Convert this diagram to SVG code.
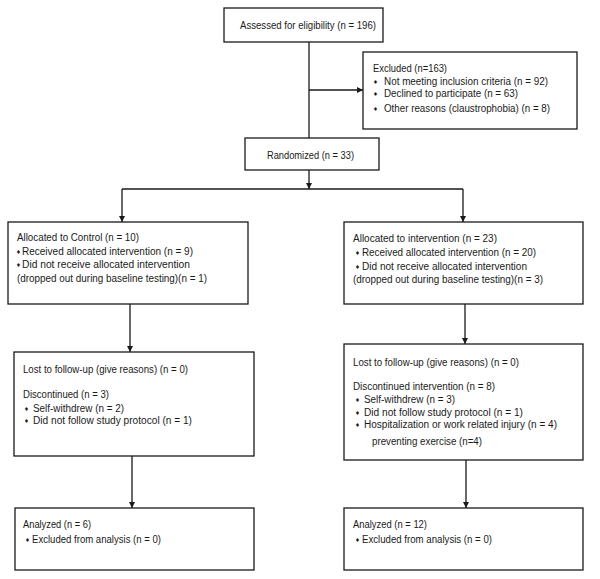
<svg xmlns="http://www.w3.org/2000/svg" width="600" height="579" viewBox="0 0 600 579">
<style>
.box{fill:#fff;stroke:#1a1a1a;stroke-width:1.3}
.t{font-family:"Liberation Sans",Arial,sans-serif;font-size:10px;fill:#1a1a1a}
.b{font-family:"DejaVu Sans",sans-serif;font-size:5.5px;fill:#1a1a1a}
.c{fill:none;stroke:#1a1a1a;stroke-width:1.3}
</style>
<defs>
<marker id="ah" viewBox="0 0 8 8" refX="8" refY="4" markerWidth="6" markerHeight="6" markerUnits="userSpaceOnUse" orient="auto">
<path d="M0,0 L8,4 L0,8 z" fill="#1a1a1a"/>
</marker>
</defs>
<rect width="600" height="579" fill="#fff"/>
<g id="connectors">
<line class="c" x1="309" y1="42" x2="309" y2="138"/>
<line class="c" x1="309" y1="90" x2="363" y2="90" marker-end="url(#ah)"/>
<line class="c" x1="309" y1="170" x2="309" y2="189" marker-end="url(#ah)"/>
<line class="c" x1="122" y1="189" x2="463" y2="189"/>
<line class="c" x1="122" y1="189" x2="122" y2="222" marker-end="url(#ah)"/>
<line class="c" x1="463" y1="189" x2="463" y2="222" marker-end="url(#ah)"/>
<line class="c" x1="130" y1="304" x2="130" y2="352" marker-end="url(#ah)"/>
<line class="c" x1="465" y1="304" x2="465" y2="344" marker-end="url(#ah)"/>
<line class="c" x1="132" y1="456" x2="132" y2="508" marker-end="url(#ah)"/>
<line class="c" x1="466" y1="460" x2="466" y2="508" marker-end="url(#ah)"/>
</g>
<g id="assessed">
<rect class="box" x="224" y="8" width="159" height="34"/>
<text class="t" x="240" y="28.5" textLength="136" lengthAdjust="spacingAndGlyphs">Assessed for eligibility (n = 196)</text>
</g>
<g id="excluded">
<rect class="box" x="363" y="52" width="214" height="77"/>
<text class="t" x="373" y="71.5" textLength="74" lengthAdjust="spacingAndGlyphs">Excluded (n=163)</text>
<text class="b" x="373" y="84">♦</text>
<text class="t" x="384" y="84.5" textLength="164" lengthAdjust="spacingAndGlyphs">Not meeting inclusion criteria (n = 92)</text>
<text class="b" x="373" y="96">♦</text>
<text class="t" x="384" y="96.8" textLength="134" lengthAdjust="spacingAndGlyphs">Declined to participate (n = 63)</text>
<text class="b" x="373" y="111">♦</text>
<text class="t" x="384" y="111.8" textLength="166" lengthAdjust="spacingAndGlyphs">Other reasons (claustrophobia) (n = 8)</text>
</g>
<g id="randomized">
<rect class="box" x="245" y="138" width="134" height="32"/>
<text class="t" x="267" y="158.5" textLength="87" lengthAdjust="spacingAndGlyphs">Randomized (n = 33)</text>
</g>
<g id="alloc-control">
<rect class="box" x="8" y="222" width="240" height="82"/>
<text class="t" x="17" y="240.5" textLength="122" lengthAdjust="spacingAndGlyphs">Allocated to Control (n = 10)</text>
<text class="b" x="16" y="254">♦</text>
<text class="t" x="22" y="254.5" textLength="171" lengthAdjust="spacingAndGlyphs">Received allocated intervention (n = 9)</text>
<text class="b" x="16" y="267">♦</text>
<text class="t" x="22" y="267.5" textLength="168" lengthAdjust="spacingAndGlyphs">Did not receive allocated intervention</text>
<text class="t" x="17" y="281.5" textLength="190" lengthAdjust="spacingAndGlyphs">(dropped out during baseline testing)(n = 1)</text>
</g>
<g id="alloc-intervention">
<rect class="box" x="344" y="222" width="239" height="82"/>
<text class="t" x="353" y="241.5" textLength="144" lengthAdjust="spacingAndGlyphs">Allocated to intervention (n = 23)</text>
<text class="b" x="355" y="255">♦</text>
<text class="t" x="362" y="255.5" textLength="174" lengthAdjust="spacingAndGlyphs">Received allocated intervention (n = 20)</text>
<text class="b" x="355" y="269">♦</text>
<text class="t" x="362" y="269.5" textLength="165" lengthAdjust="spacingAndGlyphs">Did not receive allocated intervention</text>
<text class="t" x="353" y="282.5" textLength="190" lengthAdjust="spacingAndGlyphs">(dropped out during baseline testing)(n = 3)</text>
</g>
<g id="followup-control">
<rect class="box" x="14" y="352" width="240" height="104"/>
<text class="t" x="23" y="372.5" textLength="165" lengthAdjust="spacingAndGlyphs">Lost to follow-up (give reasons) (n = 0)</text>
<text class="t" x="23" y="397.5" textLength="86" lengthAdjust="spacingAndGlyphs">Discontinued (n = 3)</text>
<text class="b" x="24" y="411">♦</text>
<text class="t" x="33" y="411.5" textLength="91" lengthAdjust="spacingAndGlyphs">Self-withdrew (n = 2)</text>
<text class="b" x="24" y="423">♦</text>
<text class="t" x="33" y="423.5" textLength="159" lengthAdjust="spacingAndGlyphs">Did not follow study protocol (n = 1)</text>
</g>
<g id="followup-intervention">
<rect class="box" x="344" y="344" width="239" height="116"/>
<text class="t" x="353" y="365.5" textLength="166" lengthAdjust="spacingAndGlyphs">Lost to follow-up (give reasons) (n = 0)</text>
<text class="t" x="353" y="389.5" textLength="142" lengthAdjust="spacingAndGlyphs">Discontinued intervention (n = 8)</text>
<text class="b" x="355" y="402">♦</text>
<text class="t" x="364" y="402.5" textLength="91" lengthAdjust="spacingAndGlyphs">Self-withdrew (n = 3)</text>
<text class="b" x="355" y="415">♦</text>
<text class="t" x="364" y="415.5" textLength="159" lengthAdjust="spacingAndGlyphs">Did not follow study protocol (n = 1)</text>
<text class="b" x="355" y="427">♦</text>
<text class="t" x="364" y="427.5" textLength="193" lengthAdjust="spacingAndGlyphs">Hospitalization or work related injury (n = 4)</text>
<text class="t" x="372" y="444.5" textLength="110" lengthAdjust="spacingAndGlyphs">preventing exercise (n=4)</text>
</g>
<g id="analyzed-control">
<rect class="box" x="15" y="508" width="239" height="62"/>
<text class="t" x="23" y="527.5" textLength="68" lengthAdjust="spacingAndGlyphs">Analyzed (n = 6)</text>
<text class="b" x="25" y="542">♦</text>
<text class="t" x="32" y="542.5" textLength="129" lengthAdjust="spacingAndGlyphs">Excluded from analysis (n = 0)</text>
</g>
<g id="analyzed-intervention">
<rect class="box" x="344" y="508" width="239" height="62"/>
<text class="t" x="353" y="527.5" textLength="74" lengthAdjust="spacingAndGlyphs">Analyzed (n = 12)</text>
<text class="b" x="355" y="542">♦</text>
<text class="t" x="362" y="542.5" textLength="130" lengthAdjust="spacingAndGlyphs">Excluded from analysis (n = 0)</text>
</g>
</svg>
